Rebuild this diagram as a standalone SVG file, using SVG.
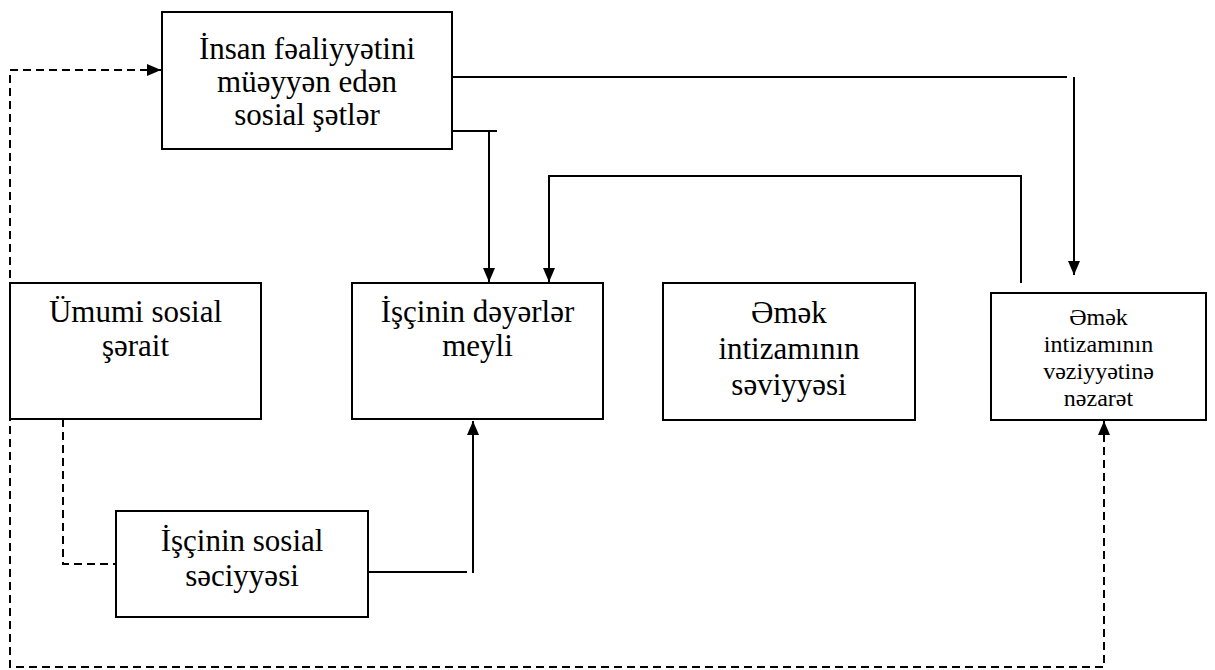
<svg xmlns="http://www.w3.org/2000/svg" width="1215" height="670" viewBox="0 0 1215 670">
<style>
.box{fill:#fff;stroke:#000;stroke-width:2}
.t{font-family:"Liberation Serif","Times New Roman",serif;font-size:31px;fill:#000;text-anchor:middle}
.ts{font-family:"Liberation Serif","Times New Roman",serif;font-size:24px;fill:#000;text-anchor:middle}
.c{fill:none;stroke:#000;stroke-width:2}
.d{fill:none;stroke:#000;stroke-width:2;stroke-dasharray:8 5}
</style>
<defs>
<marker id="ah" markerUnits="userSpaceOnUse" markerWidth="14" markerHeight="14" viewBox="0 0 14 14" refX="14" refY="7" orient="auto-start-reverse">
<path d="M0,1 L14,7 L0,13 Z" fill="#000"/>
</marker>
</defs>
<g id="connectors">
<line class="c" x1="452" y1="77" x2="1067" y2="77"/>
<line class="c" x1="1074" y1="77" x2="1074" y2="275" marker-end="url(#ah)"/>
<line class="c" x1="452" y1="131" x2="497" y2="131"/>
<line class="c" x1="489" y1="131" x2="489" y2="282" marker-end="url(#ah)"/>
<path class="c" d="M1021,283 V176 H549 V282" marker-end="url(#ah)"/>
<line class="c" x1="368" y1="572" x2="467" y2="572"/>
<line class="c" x1="473" y1="573" x2="473" y2="421" marker-end="url(#ah)"/>
<path class="d" d="M63,419 V564 H116"/>
<path class="d" d="M1104,421 V667 H10 V70 H161" marker-start="url(#ah)" marker-end="url(#ah)"/>
</g>
<g id="n-top">
<rect class="box" x="162" y="12" width="290" height="137"/>
<text class="t" x="307" y="59">İnsan fəaliyyətini</text>
<text class="t" x="307" y="92">müəyyən edən</text>
<text class="t" x="307" y="125">sosial şətlər</text>
</g>
<g id="n-umumi">
<rect class="box" x="10" y="283" width="251" height="136"/>
<text class="t" x="135.5" y="322">Ümumi sosial</text>
<text class="t" x="135.5" y="356">şərait</text>
</g>
<g id="n-deyerler">
<rect class="box" x="352" y="283" width="251" height="136"/>
<text class="t" x="477.5" y="322">İşçinin dəyərlər</text>
<text class="t" x="477.5" y="356">meyli</text>
</g>
<g id="n-emek">
<rect class="box" x="663" y="283" width="252" height="137"/>
<text class="t" x="789" y="323">Əmək</text>
<text class="t" x="789" y="359">intizamının</text>
<text class="t" x="789" y="395">səviyyəsi</text>
</g>
<g id="n-nezaret">
<rect class="box" x="991" y="293" width="215" height="127"/>
<text class="ts" x="1098.5" y="325">Əmək</text>
<text class="ts" x="1098.5" y="352">intizamının</text>
<text class="ts" x="1098.5" y="379">vəziyyətinə</text>
<text class="ts" x="1098.5" y="406">nəzarət</text>
</g>
<g id="n-sosial">
<rect class="box" x="116" y="511" width="252" height="106"/>
<text class="t" x="242" y="551">İşçinin sosial</text>
<text class="t" x="242" y="586">səciyyəsi</text>
</g>
</svg>
